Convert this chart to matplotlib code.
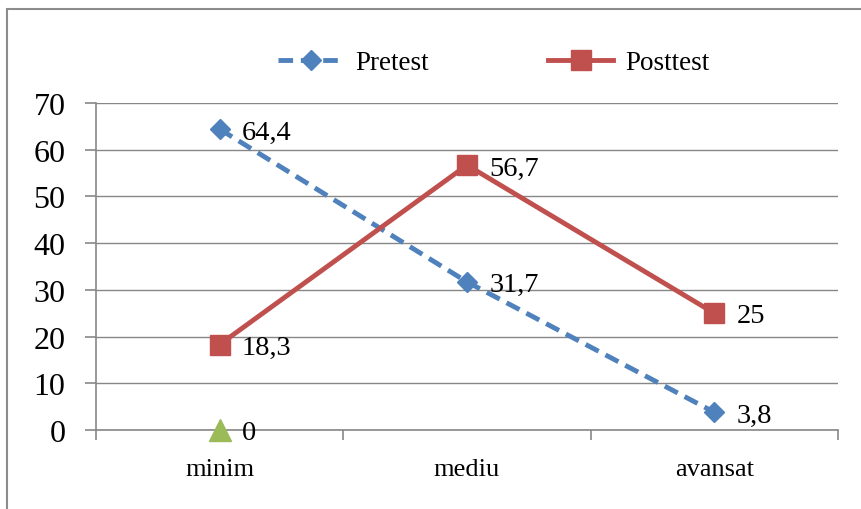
import matplotlib
matplotlib.use("Agg")
import matplotlib.pyplot as plt
from matplotlib.patches import Rectangle

categories = ["minim", "mediu", "avansat"]
pretest = [64.4, 31.7, 3.8]
posttest = [18.3, 56.7, 25]
third_x = [0]
third = [0]
pretest_labels = ["64,4", "31,7", "3,8"]
posttest_labels = ["18,3", "56,7", "25"]
third_labels = ["0"]
yticks = [0, 10, 20, 30, 40, 50, 60, 70]

plt.rcParams['font.family'] = ['Liberation Serif', 'DejaVu Serif']

W, H = 862, 510
fig = plt.figure(figsize=(W / 100, H / 100), dpi=100)
fig.patch.set_facecolor("white")

# outer frame of the chart area
fig.add_artist(Rectangle((7 / W, -0.1), 1.2, 1.1 - 10 / H, transform=fig.transFigure,
                         fill=False, edgecolor="#8c8c8c", linewidth=1.5))

left, right = 96 / W, 838 / W
top, bottom = 1 - 104 / H, 1 - 431 / H
ax = fig.add_axes([left, bottom, right - left, top - bottom])

gray = "#878787"
ax.set_xlim(-0.5, 2.5)
ax.set_ylim(0, 70)
ax.set_yticks(yticks)
ax.set_yticklabels([str(v) for v in yticks], fontsize=23)
ax.yaxis.grid(True, color=gray, linewidth=1)
ax.set_axisbelow(True)
for s in ["top", "right"]:
    ax.spines[s].set_visible(False)
for s in ["left", "bottom"]:
    ax.spines[s].set_color(gray)
    ax.spines[s].set_linewidth(1.2)
ax.tick_params(axis="y", length=8, color=gray, width=1.2, pad=14)

# category labels centered, ticks on category boundaries
ax.set_xticks([-0.5, 0.5, 1.5, 2.5])
ax.set_xticklabels([])
ax.tick_params(axis="x", length=7, color=gray, width=1.2)
ax.set_xticks(range(len(categories)), minor=True)
ax.set_xticklabels(categories, minor=True, fontsize=19)
ax.tick_params(axis="x", which="minor", length=0, pad=20)

xs = list(range(len(categories)))
blue, red, green = "#4F81BD", "#C0504D", "#9BBB59"
ax.plot(xs, pretest, color=blue, linewidth=3.5, linestyle=(0, (3, 1.6)),
        marker="D", markersize=10, markerfacecolor=blue, markeredgecolor=blue,
        label="Pretest", clip_on=False, zorder=3)
ax.plot(xs, posttest, color=red, linewidth=3.5, marker="s", markersize=14,
        markerfacecolor=red, markeredgecolor=red, label="Posttest",
        clip_on=False, zorder=3)
ax.plot(third_x, third, linestyle="none", marker="^", markersize=16,
        color=green, clip_on=False, zorder=4)

for x, v, t in zip(xs, pretest, pretest_labels):
    ax.annotate(t, (x, v), xytext=(16, -2), textcoords="offset points",
                ha="left", va="center", fontsize=20.5)
for x, v, t in zip(xs, posttest, posttest_labels):
    ax.annotate(t, (x, v), xytext=(16, -2), textcoords="offset points",
                ha="left", va="center", fontsize=20.5)
for x, v, t in zip(third_x, third, third_labels):
    ax.annotate(t, (x, v), xytext=(16, -2), textcoords="offset points",
                ha="left", va="center", fontsize=20.5)

leg = fig.legend(loc="center", bbox_to_anchor=(0.573, 1 - 64 / H), ncol=2,
                 frameon=False, fontsize=19.5, handlelength=2.4,
                 columnspacing=4.4, handletextpad=0.45)

fig.savefig("out.png", dpi=100, facecolor="white")
